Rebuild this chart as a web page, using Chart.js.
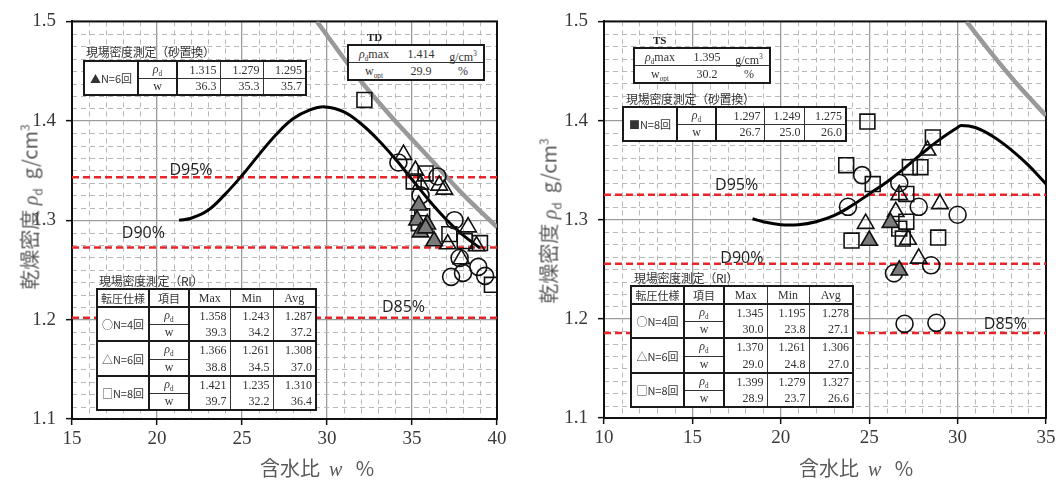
<!DOCTYPE html>
<html>
<head>
<meta charset="utf-8">
<script src="https://cdn.jsdelivr.net/npm/chart.js@4.4.1/dist/chart.umd.min.js"></script>
<style>
  body { margin: 0; background: #fff; width: 1059px; height: 486px; overflow: hidden; position: relative; }
  canvas { position: absolute; top: 0; }
  .cap { position: absolute; font: 12px "Noto Sans CJK JP", sans-serif; color: #333; white-space: nowrap; letter-spacing: -0.3px; }
  .tag { position: absolute; font: bold 11px "Liberation Serif", serif; color: #222; }
  table.tb { position: absolute; border-collapse: collapse; table-layout: fixed; background: #fff; border: 2px solid #1a1a1a; }
  table.tb td { border: 1px solid #333; padding: 0 3px; font: 12px "Liberation Serif", serif; color: #333; white-space: nowrap; overflow: hidden; }
  table.tb td.v { text-align: right; }
  table.tb td.c { text-align: center; }
  table.tb td.g { text-align: center; padding: 0 1px; font: 11px "Noto Sans CJK JP", sans-serif; border-right: 2px solid #1a1a1a; }
  table.tb td.k { text-align: center; border-right: 2px solid #1a1a1a; font-size: 12px; }
  table.tb td.hj { font: 11px "Noto Sans CJK JP", sans-serif; text-align: center; padding: 0 1px; border-right: 2px solid #1a1a1a; }
  table.ri tr.r1 td.v { border-bottom: none; }
  table.ri tr.r2 td.v { border-top: none; }
  table.ri tr.r1 td { border-top: 2px solid #1a1a1a; }
  .mx { position: absolute; background: #fff; border: 2px solid #1a1a1a; font: 12px "Liberation Serif", serif; color: #333; }
  .mx div { display: flex; height: 16px; line-height: 16px; }
  .mx div + div { border-top: 1px solid #333; }
  .mx span { display: inline-block; text-align: center; }
  .ytitle { position: absolute; transform: translate(-50%, -50%) rotate(-90deg); white-space: nowrap; font: 20px "Noto Sans CJK JP", sans-serif; color: #5a5a5a; }
  .xtitle { position: absolute; transform: translate(-50%, -50%); white-space: nowrap; font: 20px "Noto Sans CJK JP", sans-serif; color: #5a5a5a; }
  i.s { font-family: "Liberation Serif", serif; font-style: italic; }
  sub, sup { font-size: 60%; }
</style>
</head>
<body>
<canvas id="td" width="520" height="486" style="left:0"></canvas>
<canvas id="ts" width="529" height="486" style="left:530px"></canvas>
<div id="overlay"></div>
<script>
// ---- TD (left) ----
const tdRhoMax = 1.414;
const tdWopt = 29.9;
const tdCurveW   = [21.3, 22, 23, 24, 25, 26, 27, 28, 29, 29.9, 31, 32, 33, 34, 35, 36, 37, 38, 39];
const tdCurveRho = [1.300, 1.302, 1.310, 1.326, 1.345, 1.366, 1.386, 1.402, 1.411, 1.414, 1.409, 1.397, 1.381, 1.362, 1.341, 1.320, 1.301, 1.285, 1.272];
const tdZavW   = [29.4, 32, 34, 36, 38, 40];
const tdZavRho = [1.500, 1.440, 1.400, 1.363, 1.326, 1.293];
const tdN4W   = [34.2, 35.5, 36.5, 37.5, 37.8, 37.3, 38.0, 38.9, 39.3];
const tdN4Rho = [1.358, 1.325, 1.344, 1.300, 1.262, 1.243, 1.247, 1.253, 1.244];
const tdN6W   = [34.5, 35.2, 35.5, 36.6, 36.9, 38.3, 37.1, 38.8, 37.9];
const tdN6Rho = [1.366, 1.350, 1.336, 1.335, 1.331, 1.293, 1.276, 1.274, 1.261];
const tdN8W   = [32.2, 35.1, 35.8, 35.6, 37.2, 38.1, 39.0, 39.7, 35.4];
const tdN8Rho = [1.421, 1.339, 1.347, 1.304, 1.286, 1.279, 1.277, 1.235, 1.297];
const tdSandW   = [35.4, 35.3, 35.5, 36.3, 35.9, 35.8];
const tdSandRho = [1.315, 1.300, 1.288, 1.279, 1.296, 1.292];
const tdSandStats = [[1.315, 1.279, 1.295], [36.3, 35.3, 35.7]];
const tdRiRho = [[1.358, 1.243, 1.287], [1.366, 1.261, 1.308], [1.421, 1.235, 1.310]];
const tdRiW   = [[39.3, 34.2, 37.2], [38.8, 34.5, 37.0], [39.7, 32.2, 36.4]];

// ---- TS (right) ----
const tsRhoMax = 1.395;
const tsWopt = 30.2;
const tsCurveW   = [18.4, 19, 20, 21, 22, 23, 24, 25, 26, 27, 28, 29, 30, 30.2, 31, 32, 33, 34, 35];
const tsCurveRho = [1.301, 1.298, 1.295, 1.295, 1.298, 1.304, 1.314, 1.326, 1.338, 1.352, 1.367, 1.381, 1.393, 1.395, 1.393, 1.384, 1.371, 1.355, 1.336];
const tsZavW   = [30.5, 32, 33.5, 35];
const tsZavRho = [1.500, 1.466, 1.434, 1.405];
const tsN4W   = [23.8, 24.6, 26.7, 27.8, 30.0, 28.5, 26.4, 27.0, 28.8];
const tsN4Rho = [1.313, 1.345, 1.337, 1.313, 1.305, 1.254, 1.246, 1.195, 1.196];
const tsN6W   = [28.3, 29.0, 26.7, 26.5, 24.8, 27.2, 27.8];
const tsN6Rho = [1.370, 1.316, 1.325, 1.308, 1.296, 1.280, 1.261];
const tsN8W   = [24.9, 28.6, 23.7, 27.3, 27.9, 25.2, 27.1, 27.1, 26.7, 24.0, 26.9, 28.9];
const tsN8Rho = [1.399, 1.383, 1.355, 1.353, 1.353, 1.336, 1.326, 1.298, 1.291, 1.279, 1.281, 1.282];
const tsSandW   = [25.0, 26.2, 26.7];
const tsSandRho = [1.279, 1.297, 1.249];
const tsSandStats = [[1.297, 1.249, 1.275], [26.7, 25.0, 26.0]];
const tsRiRho = [[1.345, 1.195, 1.278], [1.370, 1.261, 1.306], [1.399, 1.279, 1.327]];
const tsRiW   = [[30.0, 23.8, 27.1], [29.0, 24.8, 27.0], [28.9, 23.7, 26.6]];

const dPercents = [95, 90, 85];
const riGroups = ['○N=4回', '△N=6回', '□N=8回'];

const pts = (ws, rs) => ws.map((w, i) => ({ x: w, y: rs[i] }));

// dashed minor grid + black frame round the plot
const minorGrid = {
  id: 'minorGrid',
  beforeDatasetsDraw(chart) {
    const { ctx, chartArea: a, scales: { x, y } } = chart;
    ctx.save();
    ctx.strokeStyle = '#b8b8b8';
    ctx.lineWidth = 1;
    ctx.setLineDash([5, 4]);
    const nx = Math.round(x.max - x.min);
    for (let i = 1; i < nx; i++) {
      if (i % 5 === 0) continue;
      const px = Math.round(x.getPixelForValue(x.min + i)) + 0.5;
      ctx.beginPath(); ctx.moveTo(px, a.top); ctx.lineTo(px, a.bottom); ctx.stroke();
    }
    const ny = 32;
    for (let i = 1; i < ny; i++) {
      if (i % 8 === 0) continue;
      const py = Math.round(y.getPixelForValue(y.min + i * 0.0125)) + 0.5;
      ctx.beginPath(); ctx.moveTo(a.left, py); ctx.lineTo(a.right, py); ctx.stroke();
    }
    ctx.setLineDash([]);
    ctx.strokeStyle = '#111';
    ctx.lineWidth = 2;
    ctx.strokeRect(a.left, a.top, a.width, a.height);
    ctx.restore();
  }
};

// D95% / D90% / D85% captions
const dLabels = {
  id: 'dLabels',
  afterDatasetsDraw(chart, args, opts) {
    const { ctx, scales: { x, y } } = chart;
    ctx.save();
    ctx.font = '16px "Open Sans", sans-serif';
    ctx.fillStyle = '#222';
    ctx.textAlign = 'center';
    ctx.textBaseline = 'middle';
    opts.items.forEach(it => ctx.fillText(it.text, x.getPixelForValue(it.x), y.getPixelForValue(it.y)));
    ctx.restore();
  }
};

function makeChart(id, cfg) {
  const dLines = dPercents.map(p => {
    const v = cfg.rhoMax * p / 100;
    return {
      type: 'line', data: [{ x: cfg.xMin, y: v }, { x: cfg.xMax, y: v }],
      borderColor: '#e8262a', borderWidth: 2.5, borderDash: [7, 4], pointRadius: 0, order: 5
    };
  });
  const marker = (data, style, r, fill) => ({
    type: 'scatter', data, pointStyle: style, pointRadius: r, pointHoverRadius: r,
    pointBackgroundColor: fill, pointBorderColor: '#111', pointBorderWidth: 1.6, order: 1
  });
  return new Chart(document.getElementById(id), {
    type: 'scatter',
    data: {
      datasets: [
        marker(cfg.sand, 'triangle', 9.5, '#7a7a7a'),
        marker(cfg.n8, 'rect', 10.5, 'rgba(255,255,255,0)'),
        marker(cfg.n6, 'triangle', 9.5, 'rgba(255,255,255,0)'),
        marker(cfg.n4, 'circle', 8.5, 'rgba(255,255,255,0)'),
        { type: 'line', data: cfg.curve, borderColor: '#000', borderWidth: 3, pointRadius: 0, tension: 0.4, order: 2 },
        { type: 'line', data: cfg.zav, borderColor: '#999', borderWidth: 4.5, pointRadius: 0, tension: 0.3, order: 3 },
        ...dLines
      ]
    },
    options: {
      responsive: false,
      animation: false,
      devicePixelRatio: 1,
      layout: { padding: { top: cfg.padTop, right: cfg.padRight, left: 0, bottom: 0 } },
      plugins: { legend: { display: false }, tooltip: { enabled: false }, dLabels: { items: cfg.labels } },
      scales: {
        x: {
          type: 'linear', min: cfg.xMin, max: cfg.xMax,
          ticks: { stepSize: 5, padding: 3, color: '#3a3a3a', font: { family: 'Liberation Serif', size: 19 } },
          grid: { color: '#9c9c9c', lineWidth: 1.3, tickLength: 6, tickColor: '#111', tickWidth: 1.5 },
          border: { color: '#111', width: 2 },
          afterFit: s => { s.height = cfg.xHeight; }
        },
        y: {
          type: 'linear', min: 1.1, max: 1.5,
          ticks: { stepSize: 0.1, padding: 10, color: '#3a3a3a', font: { family: 'Liberation Serif', size: 19 }, callback: v => v.toFixed(1) },
          grid: { color: '#9c9c9c', lineWidth: 1.3, tickLength: 6, tickColor: '#111', tickWidth: 1.5 },
          border: { color: '#111', width: 2 },
          afterFit: s => { s.width = cfg.yWidth; }
        }
      }
    },
    plugins: [minorGrid, dLabels]
  });
}

makeChart('td', {
  rhoMax: tdRhoMax, xMin: 15, xMax: 40, padTop: 16, padRight: 23, xHeight: 67, yWidth: 72,
  curve: pts(tdCurveW, tdCurveRho), zav: pts(tdZavW, tdZavRho),
  n4: pts(tdN4W, tdN4Rho), n6: pts(tdN6W, tdN6Rho), n8: pts(tdN8W, tdN8Rho), sand: pts(tdSandW, tdSandRho),
  labels: [{ text: 'D95%', x: 22.0, y: 1.350 }, { text: 'D90%', x: 19.2, y: 1.287 }, { text: 'D85%', x: 34.5, y: 1.212 }]
});

makeChart('ts', {
  rhoMax: tsRhoMax, xMin: 10, xMax: 35, padTop: 18, padRight: 13, xHeight: 68, yWidth: 74,
  curve: pts(tsCurveW, tsCurveRho), zav: pts(tsZavW, tsZavRho),
  n4: pts(tsN4W, tsN4Rho), n6: pts(tsN6W, tsN6Rho), n8: pts(tsN8W, tsN8Rho), sand: pts(tsSandW, tsSandRho),
  labels: [{ text: 'D95%', x: 17.5, y: 1.335 }, { text: 'D90%', x: 17.8, y: 1.261 }, { text: 'D85%', x: 32.7, y: 1.194 }]
});

// ---- overlays: tables, boxes, axis titles ----
const rhoCell = '<i class="s">ρ</i><sub>d</sub>';

function colgroup(widths) {
  return '<colgroup>' + widths.map(w => `<col style="width:${w}px">`).join('') + '</colgroup>';
}

function sandTable(left, top, widths, label, stats) {
  let h = `<table class="tb" style="left:${left}px;top:${top}px;width:${widths.reduce((a, b) => a + b, 0)}px">` + colgroup(widths);
  h += `<tr style="height:16px"><td class="g" rowspan="2">${label}</td><td class="k">${rhoCell}</td>` +
    stats[0].map(v => `<td class="v">${v.toFixed(3)}</td>`).join('') + '</tr>';
  h += `<tr style="height:16px"><td class="k">w</td>` + stats[1].map(v => `<td class="v">${v.toFixed(1)}</td>`).join('') + '</tr>';
  return h + '</table>';
}

function riTable(left, top, widths, rho, w) {
  let h = `<table class="tb ri" style="left:${left}px;top:${top}px;width:${widths.reduce((a, b) => a + b, 0)}px">` + colgroup(widths);
  h += '<tr style="height:17px"><td class="hj">転圧仕様</td><td class="hj">項目</td><td class="c">Max</td><td class="c">Min</td><td class="c">Avg</td></tr>';
  for (let g = 0; g < riGroups.length; g++) {
    h += `<tr class="r1" style="height:16px"><td class="g" rowspan="2">${riGroups[g]}</td><td class="k">${rhoCell}</td>` +
      rho[g].map(v => `<td class="v">${v.toFixed(3)}</td>`).join('') + '</tr>';
    h += `<tr class="r2" style="height:16px"><td class="k">w</td>` + w[g].map(v => `<td class="v">${v.toFixed(1)}</td>`).join('') + '</tr>';
  }
  return h + '</table>';
}

function maxBox(left, top, tag, rhoMax, wOpt) {
  return `<div class="tag" style="left:${left + 20}px;top:${top - 13}px">${tag}</div>` +
    `<div class="mx" style="left:${left}px;top:${top}px;width:134px">` +
    `<div><span style="width:50px">${rhoCell}max</span><span style="width:44px">${rhoMax.toFixed(3)}</span><span style="width:40px">g/cm<sup>3</sup></span></div>` +
    `<div><span style="width:50px">w<sub>opt</sub></span><span style="width:44px">${wOpt.toFixed(1)}</span><span style="width:40px">%</span></div></div>`;
}

const yTitle = '乾燥密度 <i class="s">ρ</i><sub>d</sub>&nbsp; g/cm<sup>3</sup>';
const xTitle = '含水比&nbsp; <i class="s">w</i>&nbsp;&nbsp; %';

let html = '';
// left panel
html += '<div class="cap" style="left:86px;top:43px">現場密度測定（砂置換）</div>';
html += sandTable(83, 60, [54, 39, 43, 43, 43], '▲N=6回', tdSandStats);
html += maxBox(347, 44, 'TD', tdRhoMax, tdWopt);
html += '<div class="cap" style="left:99px;top:272px">現場密度測定（RI）</div>';
html += riTable(96, 288, [52, 40, 41, 43, 43], tdRiRho, tdRiW);
html += `<div class="ytitle" style="left:30px;top:207px">${yTitle}</div>`;
html += `<div class="xtitle" style="left:317px;top:467px">${xTitle}</div>`;
// right panel
html += maxBox(633, 47, 'TS', tsRhoMax, tsWopt);
html += '<div class="cap" style="left:626px;top:90px">現場密度測定（砂置換）</div>';
html += sandTable(622, 106, [54, 39, 48, 40, 42], '■N=8回', tsSandStats);
html += '<div class="cap" style="left:634px;top:269px">現場密度測定（RI）</div>';
html += riTable(630, 285, [53, 40, 43, 42, 44], tsRiRho, tsRiW);
html += `<div class="ytitle" style="left:549px;top:221px">${yTitle}</div>`;
html += `<div class="xtitle" style="left:856px;top:467px">${xTitle}</div>`;

document.getElementById('overlay').innerHTML = html;
</script>
</body>
</html>
